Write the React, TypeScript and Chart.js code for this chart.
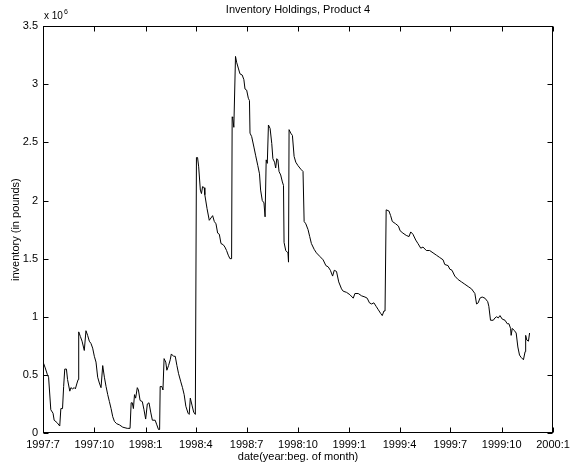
import React, { useEffect, useRef } from "react";
import { Chart, registerables } from "chart.js";

Chart.register(...registerables);

// days since 1997-07-01
const dayOffsets = [
  1, 4, 8, 10, 14, 18, 20, 25, 30, 32, 35, 37, 39, 42, 44, 48, 50, 53, 56, 58,
  61, 63, 64, 67, 70, 74, 77, 80, 83, 86, 89, 92, 95, 98, 101, 104, 107, 110, 113, 116,
  119, 122, 125, 128, 132, 137, 143, 151, 156, 158, 160, 162, 164, 166, 169, 171, 174, 178, 181, 184,
  187, 190, 193, 196, 201, 204, 207, 209, 210, 213, 215, 217, 220, 222, 225, 228, 230, 234, 237, 240,
  243, 247, 250, 253, 256, 260, 262, 264, 267, 270, 273, 274, 275, 277, 279, 282, 284, 286, 289, 290,
  294, 298, 301, 304, 307, 310, 313, 316, 319, 323, 326, 329, 332, 335, 338, 339, 340, 342, 345, 347,
  350, 353, 357, 360, 362, 365, 368, 370, 371, 374, 378, 381, 385, 388, 390, 393, 396, 398, 400, 402,
  404, 407, 410, 412, 415, 417, 419, 421, 423, 426, 429, 431, 432, 435, 439, 440, 441, 444, 447, 450,
  453, 457, 462, 466, 468, 471, 475, 478, 481, 486, 490, 496, 502, 507, 511, 515, 519, 522, 526, 530,
  535, 538, 544, 550, 556, 559, 565, 571, 577, 581, 585, 589, 593, 597, 601, 605, 608, 611, 613, 615,
  620, 623, 626, 632, 637, 640, 645, 651, 656, 659, 663, 668, 672, 677, 681, 687, 693, 699, 705, 711,
  717, 720, 726, 729, 733, 738, 744, 750, 756, 762, 768, 774, 777, 780, 783, 787, 792, 797, 799, 802,
  807, 810, 813, 816, 819, 823, 828, 832, 835, 838, 839, 841, 845, 848, 851, 854, 857, 861, 864, 865,
  867, 870, 872,
];

// inventory, in units of 10^6 pounds
const inventory = [
  0.60, 0.56, 0.50, 0.48, 0.20, 0.17, 0.11, 0.09, 0.06, 0.21, 0.21, 0.40, 0.55, 0.55, 0.46, 0.36, 0.39, 0.38, 0.39, 0.38,
  0.43, 0.46, 0.87, 0.83, 0.79, 0.71, 0.88, 0.84, 0.79, 0.77, 0.73, 0.66, 0.61, 0.48, 0.43, 0.39, 0.58, 0.48, 0.40, 0.33,
  0.27, 0.21, 0.14, 0.10, 0.08, 0.07, 0.05, 0.04, 0.04, 0.26, 0.26, 0.21, 0.33, 0.30, 0.39, 0.37, 0.28, 0.27, 0.20, 0.12,
  0.25, 0.26, 0.18, 0.11, 0.11, 0.07, 0.03, 0.03, 0.40, 0.40, 0.37, 0.64, 0.61, 0.54, 0.58, 0.63, 0.68, 0.66, 0.66, 0.58,
  0.51, 0.44, 0.39, 0.33, 0.23, 0.17, 0.16, 0.30, 0.24, 0.18, 0.16, 0.16, 2.37, 2.37, 2.29, 2.09, 2.06, 2.12, 2.11, 2.05,
  1.93, 1.83, 1.85, 1.87, 1.82, 1.80, 1.72, 1.71, 1.63, 1.62, 1.60, 1.57, 1.53, 1.50, 1.50, 2.72, 2.71, 2.63, 3.24, 3.19,
  3.14, 3.09, 3.08, 3.04, 2.96, 2.95, 2.88, 2.86, 2.58, 2.55, 2.46, 2.39, 2.30, 2.23, 2.09, 2.00, 1.98, 1.86, 2.35, 2.32,
  2.65, 2.62, 2.49, 2.36, 2.33, 2.28, 2.36, 2.35, 2.25, 2.22, 2.16, 2.13, 1.64, 1.57, 1.55, 1.47, 2.61, 2.58, 2.56, 2.38,
  2.33, 2.30, 2.27, 2.25, 1.82, 1.80, 1.75, 1.69, 1.63, 1.58, 1.55, 1.52, 1.49, 1.44, 1.43, 1.40, 1.35, 1.40, 1.39, 1.30,
  1.24, 1.22, 1.21, 1.19, 1.16, 1.20, 1.20, 1.18, 1.17, 1.16, 1.12, 1.11, 1.12, 1.09, 1.06, 1.03, 1.01, 1.05, 1.05, 1.92,
  1.91, 1.87, 1.82, 1.80, 1.78, 1.74, 1.72, 1.70, 1.69, 1.73, 1.71, 1.66, 1.63, 1.59, 1.60, 1.57, 1.57, 1.55, 1.53, 1.51,
  1.49, 1.45, 1.44, 1.41, 1.40, 1.35, 1.32, 1.30, 1.28, 1.26, 1.24, 1.20, 1.11, 1.12, 1.16, 1.17, 1.16, 1.13, 1.09, 0.97,
  0.97, 0.99, 1.00, 0.99, 1.01, 0.98, 0.97, 0.94, 0.94, 0.90, 0.84, 0.90, 0.88, 0.86, 0.74, 0.67, 0.65, 0.63, 0.70, 0.84,
  0.80, 0.79, 0.86,
];

const xTickDays = [0, 92, 184, 274, 365, 457, 549, 639, 730, 822, 914];
const xTickLabels = [
  "1997:7", "1997:10", "1998:1", "1998:4", "1998:7", "1998:10",
  "1999:1", "1999:4", "1999:7", "1999:10", "2000:1",
];
const yTicks = [0, 0.5, 1, 1.5, 2, 2.5, 3, 3.5];
const yTickLabels = ["0", "0.5", "1", "1.5", "2", "2.5", "3", "3.5"];

const FONT = '"Liberation Sans", Arial, Helvetica, sans-serif';

const framePlugin = {
  id: "matlabFrame",
  afterDatasetsDraw(chart: any) {
    const { ctx, chartArea: a, scales } = chart;
    ctx.save();
    ctx.strokeStyle = "#000";
    ctx.lineWidth = 1;
    const L = Math.round(a.left) + 0.5;
    const R = Math.round(a.right) - 0.5;
    const T = Math.round(a.top) + 0.5;
    const B = Math.round(a.bottom) - 0.5;
    ctx.strokeRect(L, T, R - L, B - T);
    ctx.beginPath();
    for (const v of xTickDays) {
      const x = Math.round(scales.x.getPixelForValue(v)) + 0.5;
      ctx.moveTo(x, B);
      ctx.lineTo(x, B - 5);
      ctx.moveTo(x, T);
      ctx.lineTo(x, T + 5);
    }
    for (const v of yTicks) {
      const y = Math.round(scales.y.getPixelForValue(v)) + 0.5;
      ctx.moveTo(L, y);
      ctx.lineTo(L + 5, y);
      ctx.moveTo(R, y);
      ctx.lineTo(R - 5, y);
    }
    ctx.stroke();
    ctx.fillStyle = "#000";
    ctx.textBaseline = "alphabetic";
    ctx.textAlign = "left";
    ctx.font = `10px ${FONT}`;
    ctx.fillText("x 10", a.left + 1, a.top - 7);
    const w = ctx.measureText("x 10").width;
    ctx.font = `7px ${FONT}`;
    ctx.fillText("6", a.left + 1 + w + 1, a.top - 12);
    ctx.restore();
  },
};

export default function App() {
  const ref = useRef<HTMLCanvasElement | null>(null);
  useEffect(() => {
    if (!ref.current) return;
    const points = dayOffsets.map((d, i) => ({ x: d, y: inventory[i] }));
    const chart = new Chart(ref.current, {
      type: "line",
      data: {
        datasets: [
          {
            data: points,
            borderColor: "#000",
            borderWidth: 1,
            pointRadius: 0,
            tension: 0,
            fill: false,
          },
        ],
      },
      options: {
        animation: false,
        responsive: false,
        events: [],
        layout: { padding: { top: 0, right: 24, left: 0, bottom: 0 } },
        plugins: {
          legend: { display: false },
          tooltip: { enabled: false },
          title: {
            display: true,
            text: "Inventory Holdings, Product 4",
            color: "#000",
            fullSize: false,
            font: { family: FONT, size: 11, weight: "normal" },
            padding: { top: 3, bottom: 10 },
          },
        },
        scales: {
          x: {
            type: "linear",
            min: 0,
            max: 914,
            afterBuildTicks: (scale: any) => {
              scale.ticks = xTickDays.map((v) => ({ value: v }));
            },
            afterFit: (scale: any) => {
              scale.height = 33;
            },
            grid: { display: false, drawTicks: false },
            border: { display: false },
            ticks: {
              color: "#000",
              font: { family: FONT, size: 11 },
              padding: 5,
              maxRotation: 0,
              autoSkip: false,
              callback: (v: any) => {
                const i = xTickDays.indexOf(Number(v));
                return i >= 0 ? xTickLabels[i] : "";
              },
            },
            title: {
              display: true,
              text: "date(year:beg. of month)",
              color: "#000",
              font: { family: FONT, size: 11 },
              padding: { top: 0, bottom: 2 },
            },
          },
          y: {
            min: 0,
            max: 3.5,
            afterBuildTicks: (scale: any) => {
              scale.ticks = yTicks.map((v) => ({ value: v }));
            },
            afterFit: (scale: any) => {
              scale.width = 43;
            },
            grid: { display: false, drawTicks: false },
            border: { display: false },
            ticks: {
              color: "#000",
              font: { family: FONT, size: 11 },
              padding: 5,
              autoSkip: false,
              callback: (v: any) => {
                const i = yTicks.indexOf(Number(v));
                return i >= 0 ? yTickLabels[i] : "";
              },
            },
            title: {
              display: true,
              text: "inventory (in pounds)",
              color: "#000",
              font: { family: FONT, size: 11 },
              padding: { top: 9, bottom: 0 },
            },
          },
        },
      },
      plugins: [framePlugin],
    });
    return () => chart.destroy();
  }, []);
  return (
    <div style={{ position: "absolute", left: 0, top: 0, width: 577, height: 466, background: "#fff" }}>
      <canvas ref={ref} width={577} height={466} />
    </div>
  );
}
